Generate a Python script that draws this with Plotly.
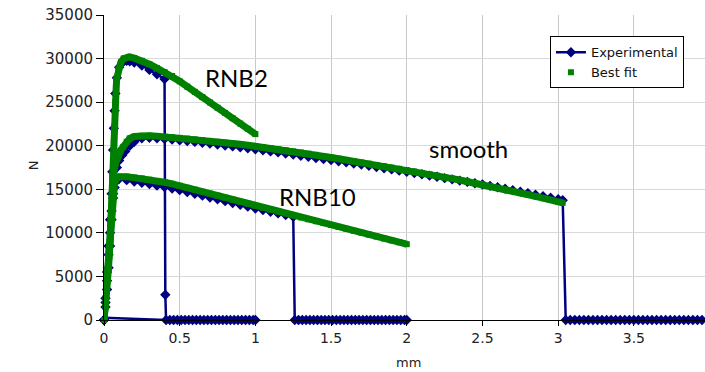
import plotly.graph_objects as go

# ---------------- data ----------------
# Experimental, RNB2 specimen (N vs mm)
exp_rnb2_x = [0, 0.01, 0.02, 0.03, 0.04, 0.05, 0.055, 0.06, 0.065, 0.07, 0.075, 0.085, 0.1, 0.12,
              0.15, 0.17, 0.2, 0.25, 0.3, 0.35, 0.4, 0.405, 0.41,
              0.435, 0.46, 0.485, 0.51, 0.535, 0.56, 0.585, 0.61, 0.635, 0.66, 0.685, 0.71,
              0.735, 0.76, 0.785, 0.81, 0.835, 0.86, 0.885, 0.91, 0.935, 0.96, 0.985, 1.0]
exp_rnb2_y = [0, 2500, 5500, 8500, 11500, 14500, 17000, 19500, 22000, 24000, 26000, 27800, 29000, 29500,
              29750, 29700, 29550, 29200, 28700, 28200, 27650, 2900, 0,
              0, 0, 0, 0, 0, 0, 0, 0, 0, 0, 0, 0,
              0, 0, 0, 0, 0, 0, 0, 0, 0, 0, 0, 0]

# Experimental, RNB10 specimen
exp_rnb10_x = [0, 0.01, 0.02, 0.03, 0.04, 0.05, 0.06, 0.07, 0.08, 0.1,
               0.15, 0.2, 0.25, 0.3, 0.35, 0.4, 0.45, 0.5, 0.55, 0.6, 0.65, 0.7, 0.75, 0.8,
               0.85, 0.9, 0.95, 1.0, 1.05, 1.1, 1.15, 1.2, 1.25, 1.26,
               1.285, 1.31, 1.335, 1.36, 1.385, 1.41, 1.435, 1.46, 1.485, 1.51, 1.535, 1.56,
               1.585, 1.61, 1.635, 1.66, 1.685, 1.71, 1.735, 1.76, 1.785, 1.81, 1.835, 1.86,
               1.885, 1.91, 1.935, 1.96, 1.985, 2.0]
exp_rnb10_y = [0, 2000, 4500, 7500, 10000, 12500, 14000, 15200, 15900, 16200,
               16050, 15900, 15750, 15600, 15420, 15250, 15080, 14900, 14690, 14480, 14270, 14060, 13850, 13640,
               13430, 13220, 13010, 12800, 12610, 12420, 12230, 12040, 11850, 0,
               0, 0, 0, 0, 0, 0, 0, 0, 0, 0, 0, 0,
               0, 0, 0, 0, 0, 0, 0, 0, 0, 0, 0, 0,
               0, 0, 0, 0, 0, 0]

# Experimental, smooth specimen
exp_smooth_x = [0, 0.01, 0.02, 0.03, 0.04, 0.05, 0.06, 0.07, 0.085, 0.1, 0.12, 0.14, 0.17, 0.2, 0.25, 0.3,
                0.35, 0.4, 0.45, 0.5, 0.55, 0.6, 0.65, 0.7, 0.75, 0.8, 0.85, 0.9, 0.95, 1.0,
                1.05, 1.1, 1.15, 1.2, 1.25, 1.3, 1.35, 1.4, 1.45, 1.5, 1.55, 1.6, 1.65, 1.7,
                1.75, 1.8, 1.85, 1.9, 1.95, 2.0, 2.05, 2.1, 2.15, 2.2, 2.25, 2.3, 2.35, 2.4,
                2.45, 2.5, 2.55, 2.6, 2.65, 2.7, 2.75, 2.8, 2.85, 2.9, 2.95, 3.0, 3.03, 3.05,
                3.08, 3.11, 3.14, 3.17, 3.2, 3.23, 3.26, 3.29, 3.32, 3.35, 3.38, 3.41, 3.44,
                3.47, 3.5, 3.53, 3.56, 3.59, 3.62, 3.65, 3.68, 3.71, 3.74, 3.77, 3.8, 3.83,
                3.86, 3.89, 3.92, 3.95]
exp_smooth_y = [0, 1500, 3500, 6000, 8500, 11500, 14500, 16000, 17500, 18300, 18900, 19350, 20000, 20450, 20850, 20900,
                20850, 20780, 20700, 20620, 20530, 20440, 20340, 20240, 20140, 20030, 19920, 19810, 19700, 19590,
                19470, 19350, 19230, 19100, 18980, 18850, 18720, 18590, 18470, 18350, 18220, 18090, 17960, 17830,
                17690, 17560, 17420, 17280, 17140, 17000, 16860, 16720, 16570, 16430, 16280, 16140, 15990, 15850,
                15700, 15550, 15390, 15230, 15060, 14900, 14730, 14560, 14380, 14210, 14030, 13850, 13750, 0,
                0, 0, 0, 0, 0, 0, 0, 0, 0, 0, 0, 0, 0,
                0, 0, 0, 0, 0, 0, 0, 0, 0, 0, 0, 0, 0,
                0, 0, 0, 0]

# Experimental, short segment near the origin
exp_base_x = [0, 0.41]
exp_base_y = [250, 0]

# Best fit, RNB2
fit_rnb2_x = [0, 0.01, 0.02, 0.03, 0.04, 0.05, 0.055, 0.06, 0.065, 0.068, 0.075, 0.08, 0.084,
              0.095, 0.112, 0.13, 0.167, 0.2, 0.25, 0.3, 0.35, 0.4,
              0.45, 0.5, 0.55, 0.6, 0.65, 0.7, 0.75, 0.8, 0.85, 0.9, 0.95, 1.0]
fit_rnb2_y = [0, 2000, 4500, 7000, 9500, 13000, 16500, 18500, 20500, 22200, 25000, 26500, 27700,
              28800, 29600, 30000, 30200, 30050, 29750, 29350, 28900, 28450,
              28000, 27390, 26780, 26180, 25570, 24970, 24360, 23760, 23150, 22540, 21940, 21330]

# Best fit, smooth
fit_smooth_x = [0, 0.01, 0.02, 0.03, 0.04, 0.05, 0.055, 0.062, 0.075, 0.095, 0.11, 0.127, 0.15, 0.17,
                0.2, 0.25, 0.3, 0.35, 0.4,
                0.45, 0.5, 0.55, 0.6, 0.65, 0.7, 0.75, 0.8, 0.85, 0.9, 0.95, 1.0,
                1.05, 1.1, 1.15, 1.2, 1.25, 1.3, 1.35, 1.4, 1.45, 1.5, 1.55, 1.6, 1.65, 1.7,
                1.75, 1.8, 1.85, 1.9, 1.95, 2.0, 2.05, 2.1, 2.15, 2.2, 2.25, 2.3, 2.35, 2.4,
                2.45, 2.5, 2.55, 2.6, 2.65, 2.7, 2.75, 2.8, 2.85, 2.9, 2.95, 3.0, 3.03]
fit_smooth_y = [0, 1500, 3500, 6000, 9000, 12500, 15000, 16800, 17900, 18900, 19450, 19870, 20450, 20830,
                21050, 21150, 21150, 21100, 21030,
                20970, 20900, 20820, 20730, 20640, 20550, 20450, 20360, 20260, 20160, 20060, 19950,
                19840, 19720, 19600, 19480, 19350, 19220, 19090, 18950, 18800, 18650, 18510, 18370, 18230, 18080,
                17940, 17790, 17640, 17490, 17350, 17200, 17040, 16880, 16720, 16560, 16390, 16220, 16060, 15890,
                15720, 15550, 15370, 15180, 14990, 14800, 14600, 14400, 14190, 13980, 13770, 13560, 13450]

# Best fit, RNB10
fit_rnb10_x = [0, 0.01, 0.02, 0.03, 0.04, 0.05, 0.06, 0.07, 0.08, 0.1,
               0.15, 0.2, 0.25, 0.3, 0.35, 0.4,
               0.45, 0.5, 0.55, 0.6, 0.65, 0.7, 0.75, 0.8, 0.85, 0.9, 0.95, 1.0,
               1.05, 1.1, 1.15, 1.2, 1.25,
               1.3, 1.35, 1.4, 1.45, 1.5, 1.55, 1.6, 1.65, 1.7, 1.75, 1.8, 1.85, 1.9, 1.95, 2.0]
fit_rnb10_y = [0, 2500, 5000, 8000, 10500, 13000, 14800, 15700, 16100, 16450,
               16450, 16350, 16250, 16100, 15950, 15800,
               15630, 15400, 15170, 14950, 14720, 14500, 14270, 14040, 13810, 13570, 13340, 13100,
               12880, 12660, 12440, 12220, 12000,
               11780, 11560, 11340, 11120, 10900, 10680, 10460, 10240, 10020, 9800, 9580, 9360, 9140, 8920, 8700]

x_tick_vals = [0, 0.5, 1, 1.5, 2, 2.5, 3, 3.5]
x_tick_text = ["0", "0.5", "1", "1.5", "2", "2.5", "3", "3.5"]
y_tick_vals = [0, 5000, 10000, 15000, 20000, 25000, 30000, 35000]
y_tick_text = ["0", "5000", "10000", "15000", "20000", "25000", "30000", "35000"]

labels = ["RNB2", "smooth", "RNB10"]

for a, b in [(exp_rnb2_x, exp_rnb2_y), (exp_rnb10_x, exp_rnb10_y), (exp_smooth_x, exp_smooth_y),
             (fit_rnb2_x, fit_rnb2_y), (fit_smooth_x, fit_smooth_y), (fit_rnb10_x, fit_rnb10_y)]:
    assert len(a) == len(b), (len(a), len(b))

# ---------------- styles ----------------
NAVY = "#000080"
GREEN = "#008000"
TICK_FONT = dict(family="DejaVu Sans", size=14, color="#222222")
YTICK_FONT = dict(family="DejaVu Sans", size=15, color="#222222")

fig = go.Figure()

exp_sets = [(exp_base_x, exp_base_y), (exp_rnb2_x, exp_rnb2_y),
            (exp_rnb10_x, exp_rnb10_y), (exp_smooth_x, exp_smooth_y)]
for i, (xs, ys) in enumerate(exp_sets):
    fig.add_trace(go.Scatter(
        x=xs, y=ys, mode="lines+markers" if i > 0 else "lines",
        name="Experimental", legendgroup="exp", showlegend=(i == 1),
        line=dict(color=NAVY, width=2.5),
        marker=dict(symbol="diamond", size=8, color=NAVY),
        cliponaxis=False,
    ))

fit_sets = [(fit_rnb2_x, fit_rnb2_y), (fit_smooth_x, fit_smooth_y), (fit_rnb10_x, fit_rnb10_y)]
for i, (xs, ys) in enumerate(fit_sets):
    # thick band under the square markers
    fig.add_trace(go.Scatter(
        x=xs, y=ys, mode="lines", legendgroup="fit", showlegend=False,
        line=dict(color=GREEN, width=7), hoverinfo="skip", cliponaxis=False,
    ))
    fig.add_trace(go.Scatter(
        x=xs, y=ys, mode="markers",
        name="Best fit", legendgroup="fit", showlegend=(i == 0),
        marker=dict(symbol="square", size=6, color=GREEN),
        cliponaxis=False,
    ))

label_pos = [(0.875, 27870), (2.406, 19650), (1.412, 14200)]
for txt, (lx, ly) in zip(labels, label_pos):
    fig.add_annotation(x=lx, y=ly, text=txt, showarrow=False,
                       font=dict(family="Lato", size=24, color="#000000"),
                       xanchor="center", yanchor="middle")

fig.add_annotation(xref="paper", yref="paper", x=-0.118, y=0.508, text="N", textangle=-90,
                   xanchor="center", yanchor="middle",
                   showarrow=False, font=dict(family="DejaVu Sans", size=13, color="#222222"))
fig.add_annotation(xref="paper", yref="paper", x=0.506, y=-0.138, text="mm",
                   xanchor="center", yanchor="middle",
                   showarrow=False, font=dict(family="DejaVu Sans", size=13, color="#222222"))

fig.update_layout(
    width=705, height=372,
    margin=dict(l=104, r=0, t=15, b=52),
    paper_bgcolor="white", plot_bgcolor="white",
    showlegend=True,
    legend=dict(x=0.742, y=0.93, xanchor="left", yanchor="top",
                bordercolor="#000000", borderwidth=1, bgcolor="white",
                font=dict(family="DejaVu Sans", size=13, color="#111111"),
                tracegroupgap=0, itemwidth=30),
    xaxis=dict(range=[0, 3.97], tickvals=x_tick_vals, ticktext=x_tick_text,
               showgrid=True, gridcolor="#c8c8c8", gridwidth=1,
               showline=True, linecolor="#000000", linewidth=1,
               ticks="outside", ticklen=5, tickcolor="#000000",
               zeroline=False, tickfont=TICK_FONT),
    yaxis=dict(range=[0, 35000], tickvals=y_tick_vals, ticktext=y_tick_text,
               showgrid=True, gridcolor="#d9d9d9", gridwidth=1,
               showline=True, linecolor="#000000", linewidth=1,
               ticks="outside", ticklen=7, tickcolor="#000000",
               zeroline=False, tickfont=YTICK_FONT),
)

fig.write_html("out.html")
